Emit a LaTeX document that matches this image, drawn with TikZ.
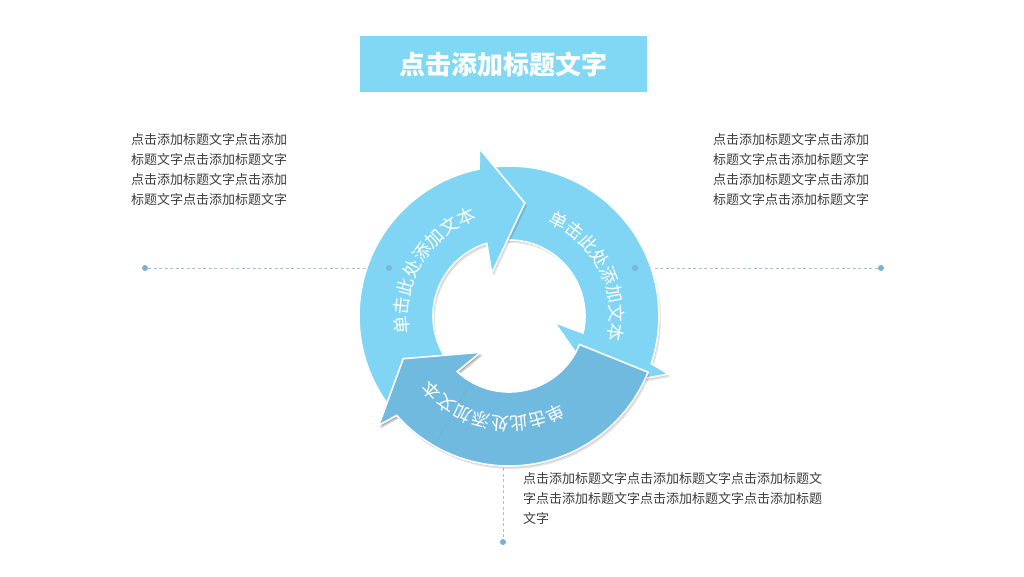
\documentclass[tikz,border=0pt]{standalone}
\usepackage{fontspec}
\newfontfamily\cjk{Noto Sans CJK SC}
\usetikzlibrary{decorations.text}
\definecolor{lightb}{HTML}{7FD5F3}
\definecolor{darkb}{HTML}{70B9DF}
\definecolor{titleb}{HTML}{80D8F5}
\definecolor{dotc}{HTML}{7DAED3}
\definecolor{dashc}{HTML}{A2C3DC}
\definecolor{txt}{HTML}{3C3C3C}
\newcommand\arrowshape{(218:150) arc[start angle=218,end angle=101.5,radius=150] -- (100:170) -- (82:114) -- (112:46) -- (107:76) arc[start angle=107,end angle=218,radius=76] -- cycle}
\newcommand\onearrow[2]{%
  \fill[black,opacity=0.10,shift={(511,257)},rotate=#1] \arrowshape;
  \fill[black,opacity=0.10,shift={(510,258.5)},rotate=#1] \arrowshape;
  \path[arrowfill=#2,shift={(509,260)},rotate=#1] \arrowshape;}
\newcommand\arctext{\cjk\fontsize{18}{18}\selectfont}
\begin{document}
\begin{tikzpicture}[x=1pt,y=1pt,
  arrowfill/.style={fill=#1,draw=white,line width=1.6pt,line join=miter},
  dot/.style={circle,fill=dotc,inner sep=0pt,minimum size=6pt},
  dashline/.style={draw=dashc,line width=0.8pt,dash pattern=on 3pt off 2.5pt},
  bodytext/.style={font=\cjk\fontsize{13}{20}\selectfont,text=txt,align=left,inner sep=0pt,anchor=north west},
  arclabel/.style={decorate,decoration={text along path,text align=center,text color=white,text={|\arctext|#1}}}]
\fill[white] (0,0) rectangle (1024,576);
\useasboundingbox (0,0) rectangle (1024,576);
% dashed leader lines
\node[dot] (l1) at (145,308) {};
\node[dot,opacity=0.8] (l2) at (389,308) {};
\node[dot,opacity=0.8] (r1) at (635,308) {};
\node[dot] (r2) at (881,308) {};
\coordinate (vtop) at (503,108);
\node[dot] (vb) at (503,34) {};
\draw[dashline] (l1) -- (l2);
\draw[dashline] (r1) -- (r2);
\draw[dashline] (vtop) -- (vb);
% cycle arrows
\onearrow{-120}{lightb}
\onearrow{-240}{darkb}
\onearrow{0}{lightb}
\begin{scope}
  \clip[shift={(509,260)},rotate=-240] (0,0) -- (70:220) arc[start angle=70,end angle=120,radius=220] -- cycle;
  \onearrow{-240}{darkb}
\end{scope}
% dots on top
\node[dot,opacity=0.8] at (l2) {};
\node[dot,opacity=0.8] at (r1) {};
% arc texts
\path[arclabel=单击此处添加文本] (509,260) ++(209:101) arc[start angle=209,end angle=89,radius=101];
\path[arclabel=单击此处添加文本] (509,260) ++(87:101) arc[start angle=87,end angle=-33,radius=101];
\path[arclabel=单击此处添加文本] (509,260) ++(-40:101) arc[start angle=-40,end angle=-160,radius=101];
% title
\node[fill=titleb,minimum width=287pt,minimum height=56pt,inner sep=0pt,text=white,font=\cjk\bfseries\fontsize{26}{26}\selectfont] (title) at (503.5,512) {点击添加标题文字};
% body texts
\node[bodytext] (lt) at (131,443) {点击添加标题文字点击添加\\标题文字点击添加标题文字\\点击添加标题文字点击添加\\标题文字点击添加标题文字};
\node[bodytext] (rt) at (713,443) {点击添加标题文字点击添加\\标题文字点击添加标题文字\\点击添加标题文字点击添加\\标题文字点击添加标题文字};
\node[bodytext] (bt) at (523,104) {点击添加标题文字点击添加标题文字点击添加标题文\\字点击添加标题文字点击添加标题文字点击添加标题\\文字};
\end{tikzpicture}
\end{document}
